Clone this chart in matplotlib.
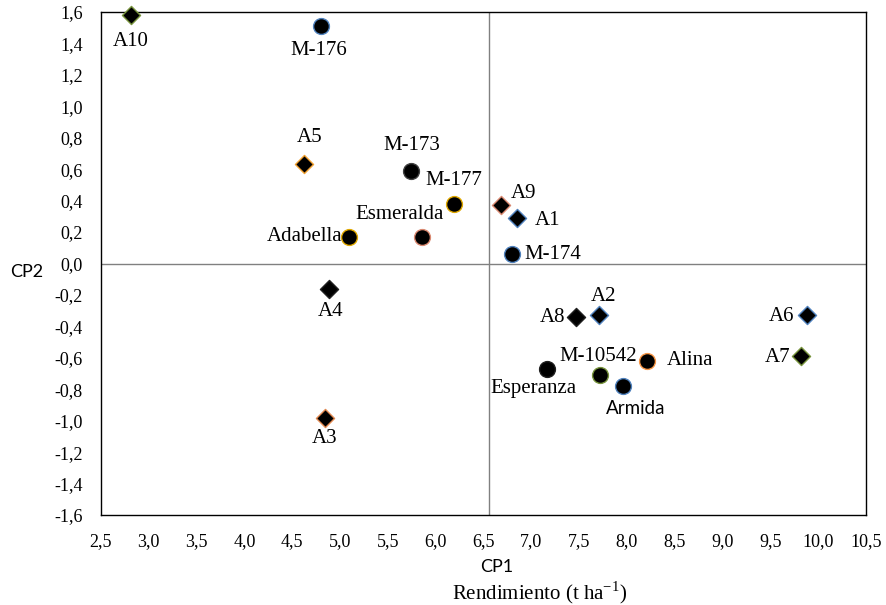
import matplotlib
matplotlib.use('Agg')
import matplotlib.pyplot as plt

# Data
names = ["A10", "M-176", "A5", "M-173", "M-177", "A9", "A1", "Adabella",
         "Esmeralda", "M-174", "A4", "A8", "A2", "A6", "A7", "Esperanza",
         "M-10542", "Alina", "Armida", "A3"]
cp1 = [2.81, 4.80, 4.62, 5.74, 6.19, 6.68, 6.85, 5.09,
       5.86, 6.80, 4.88, 7.47, 7.71, 9.88, 9.82, 7.16,
       7.72, 8.21, 7.96, 4.84]
cp2 = [1.58, 1.51, 0.63, 0.59, 0.38, 0.37, 0.29, 0.17,
       0.17, 0.06, -0.16, -0.34, -0.33, -0.33, -0.59, -0.67,
       -0.71, -0.62, -0.78, -0.98]
markers = ["D", "o", "D", "o", "o", "D", "D", "o",
           "o", "o", "D", "D", "D", "D", "D", "o",
           "o", "o", "o", "D"]
edges = ["#77933C", "#4F81BD", "#F0A030", "#404040", "#E0A800", "#D98870", "#4F81BD", "#E0A800",
         "#D98870", "#4F81BD", "#202020", "#202020", "#4F81BD", "#4F81BD", "#77933C", "#202020",
         "#77933C", "#F79646", "#4F81BD", "#E08850"]
# label offsets (pixels)
offsets = [(0, -26), (-2, -24), (6, 27), (1, 25), (0, 23), (23, 12), (31, -3), (-44, 0),
           (-23, 22), (41, 0), (2, -23), (-24, -1), (4, 19), (-25, -1), (-23, -1), (-13, -20),
           (-2, 19), (43, 0), (13, -22), (0, -21)]
mean_cp1 = 6.56

x_ticks = [2.5 + 0.5 * i for i in range(17)]
y_ticks = [-1.6 + 0.2 * i for i in range(17)]

fig = plt.figure(figsize=(8.86, 6.05), dpi=100)
ax = fig.add_axes([101 / 886, 1 - 515 / 605, 765 / 886, 503 / 605])

ax.axvline(mean_cp1, color='#808080', linewidth=1.0, zorder=1)
ax.axhline(0.0, color='#808080', linewidth=1.0, zorder=1)

for x, y, m, ec in zip(cp1, cp2, markers, edges):
    ax.scatter(x, y, marker=m, s=130 if m == 'o' else 85, c='black',
               edgecolors=ec, linewidths=1.0, zorder=3, clip_on=False)

for name, x, y, (dx, dy) in zip(names, cp1, cp2, offsets):
    fam = 'Lato' if name == 'Armida' else 'Liberation Serif'
    size = 13.5 if name == 'Armida' else 15
    ax.annotate(name, (x, y), xytext=(dx, dy), textcoords='offset pixels',
                ha='center', va='center', fontsize=size, family=fam, zorder=4)

ax.set_xlim(2.5, 10.5)
ax.set_ylim(-1.6, 1.6)
ax.set_xticks(x_ticks)
ax.set_yticks(y_ticks)
ax.set_xticklabels([f"{v:.1f}".replace('.', ',') for v in x_ticks],
                   family='Liberation Serif', fontsize=13)
ax.set_yticklabels([f"{v:.1f}".replace('.', ',').replace('-0,0', '0,0') for v in y_ticks],
                   family='Liberation Serif', fontsize=13)
ax.tick_params(axis='x', length=0, pad=13)
ax.tick_params(axis='y', length=0, pad=13)
for s in ax.spines.values():
    s.set_linewidth(1.0)
    s.set_color('black')

fig.text(497 / 886, 1 - 567 / 605, "CP1", ha='center', va='center',
         family='Lato', fontsize=13)
fig.text(540 / 886, 1 - 593 / 605, "Rendimiento (t ha$^{\\mathregular{-1}}$)",
         ha='center', va='center', family='Liberation Serif', fontsize=15)
fig.text(27 / 886, 1 - 272 / 605, "CP2", ha='center', va='center',
         family='Lato', fontsize=13)

fig.savefig('out.png', dpi=100)
